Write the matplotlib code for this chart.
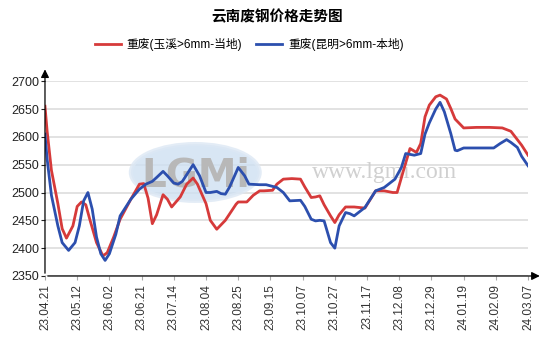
import matplotlib.pyplot as plt
from matplotlib.patches import Ellipse

plt.rcParams['font.family'] = ['Liberation Sans', 'Noto Sans CJK SC', 'DejaVu Sans']

title = "云南废钢价格走势图"
tick_labels = ["23.04.21", "23.05.12", "23.06.02", "23.06.21", "23.07.14", "23.08.04",
               "23.08.25", "23.09.15", "23.10.07", "23.10.27", "23.11.17", "23.12.08",
               "23.12.29", "24.01.19", "24.02.09", "24.03.07"]
days_per_tick = 15  # trading days between labels

name_yuxi = "重废(玉溪>6mm-当地)"
day_yuxi = [0, 1, 3, 6, 8, 10, 13, 15, 17, 19, 21, 24, 27, 29, 32, 35, 40, 44, 46, 48,
            50, 52, 55, 57, 59, 63, 66, 69, 71, 75, 77, 80, 84, 89, 90, 94, 97, 100, 102, 106,
            108, 111, 115, 119, 121, 124, 126, 128, 130, 133, 135, 137, 140, 144, 149, 154, 158, 162, 164, 167,
            170, 173, 175, 177, 179, 182, 184, 187, 189, 191, 195, 201, 207, 213, 217, 219, 222, 225]
price_yuxi = [2655, 2610, 2540, 2480, 2435, 2418, 2440, 2475, 2483, 2478, 2450, 2410, 2386, 2392, 2420, 2452, 2488, 2515, 2516, 2490,
              2444, 2460, 2496, 2488, 2474, 2492, 2515, 2526, 2515, 2480, 2450, 2434, 2450, 2479, 2483, 2483, 2495, 2503, 2503, 2504,
              2515, 2524, 2525, 2524, 2510, 2491, 2492, 2494, 2478, 2458, 2446, 2460, 2474, 2474, 2472, 2503, 2503, 2500, 2500, 2540,
              2579, 2572, 2588, 2636, 2657, 2672, 2675, 2668, 2651, 2632, 2616, 2617, 2617, 2616, 2610, 2600, 2585, 2567]

name_km = "重废(昆明>6mm-本地)"
day_km = [0, 1, 3, 6, 8, 11, 14, 16, 18, 20, 22, 24, 26, 28, 30, 33, 35, 40, 44, 47,
          50, 52, 55, 57, 60, 62, 64, 67, 69, 72, 75, 77, 80, 82, 84, 86, 89, 90, 93, 95,
          100, 103, 108, 111, 114, 119, 121, 124, 126, 128, 130, 133, 135, 137, 140, 142, 144, 149, 154, 158,
          163, 166, 168, 172, 175, 177, 179, 182, 184, 186, 189, 191, 192, 195, 209, 212, 215, 217, 220, 222, 225]
price_km = [2605, 2560, 2495, 2440, 2410, 2396, 2410, 2440, 2485, 2500, 2470, 2420, 2390, 2378, 2390, 2425, 2458, 2488, 2506, 2515,
            2520, 2527, 2538, 2530, 2517, 2515, 2520, 2538, 2550, 2530, 2500, 2500, 2502, 2498, 2497, 2510, 2536, 2545, 2530, 2515,
            2514, 2514, 2509, 2500, 2485, 2486, 2475, 2452, 2449, 2450, 2449, 2410, 2400, 2440, 2464, 2462, 2458, 2473, 2503, 2509,
            2524, 2545, 2570, 2567, 2570, 2605, 2625, 2650, 2662, 2645, 2606, 2576, 2575, 2580, 2580, 2588, 2595, 2590, 2581, 2565, 2548]

fig = plt.figure(figsize=(5.54, 3.51), dpi=100)
ax = fig.add_axes([0.0812, 0.2137, 0.872, 0.555])

# watermark
ax.add_patch(Ellipse((70, 2536), 60, 102, facecolor="#cfe0f2", edgecolor="#dde8f4", lw=3, alpha=0.8, zorder=1))
ax.text(70, 2530, "LGMi", fontsize=28, color="#b8b8b8", ha="center", va="center",
        family="DejaVu Sans", fontweight="bold", zorder=1)
ax.text(158, 2536, "www.lgmi.com", fontsize=17, color="#d0d0d0", ha="center", va="center",
        family="Liberation Serif", zorder=1)

ax.plot(day_yuxi, price_yuxi, color="#d63a3a", lw=2.0, solid_joinstyle="round", label=name_yuxi, zorder=3)
ax.plot(day_km, price_km, color="#2c4fae", lw=2.0, solid_joinstyle="round", label=name_km, zorder=3)

ax.set_xlim(0, days_per_tick * (len(tick_labels) - 1))
ax.set_ylim(2350, 2700)
ax.set_yticks(range(2350, 2701, 50))
ax.set_xticks([i * days_per_tick for i in range(len(tick_labels))])
ax.set_xticklabels(tick_labels, rotation=90, fontsize=8.5, color="#333333")
ax.tick_params(axis="y", labelsize=9, colors="#222222", length=3, pad=1)
ax.tick_params(axis="x", length=3, color="#aaaaaa", pad=3)
ax.grid(axis="y", color="#dddddd", lw=1.2)
ax.set_axisbelow(True)
for s in ax.spines.values():
    s.set_visible(False)

# axes with arrow heads
ax.annotate("", xy=(0, 1.075), xytext=(0, 0), xycoords="axes fraction",
            arrowprops=dict(arrowstyle="-|>", color="black", lw=0.9, mutation_scale=12), annotation_clip=False)
ax.annotate("", xy=(1.03, 0), xytext=(0, 0), xycoords="axes fraction",
            arrowprops=dict(arrowstyle="-|>", color="black", lw=0.9, mutation_scale=12), annotation_clip=False)

fig.text(0.5, 0.955, title, ha="center", va="center", fontsize=10.5, fontweight="bold",
         family=["Noto Sans CJK SC", "DejaVu Sans"])
fig.legend(loc="center", bbox_to_anchor=(0.45, 0.872), ncol=2, frameon=False,
           handlelength=2.2, columnspacing=1.2, handletextpad=0.5,
           prop={"family": ["Liberation Sans", "Noto Sans CJK SC"], "size": 8.5})

fig.savefig("out.png", dpi=100)
